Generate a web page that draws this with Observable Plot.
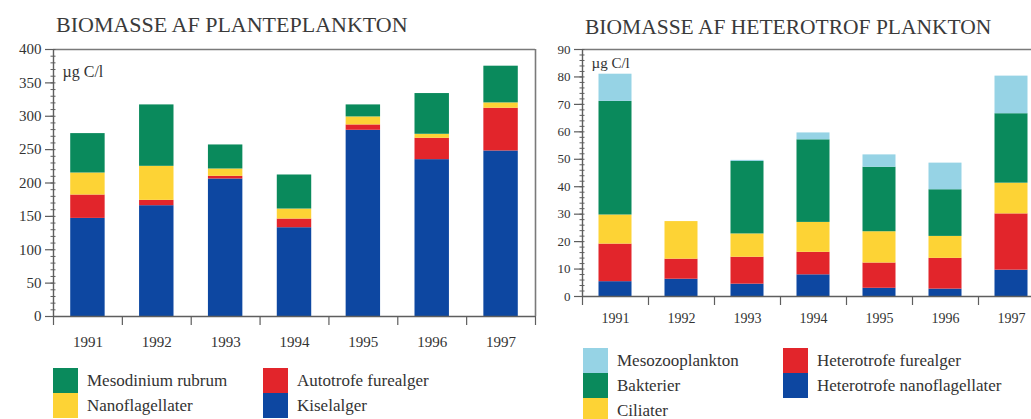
<!DOCTYPE html>
<html><head><meta charset="utf-8">
<script src="https://cdn.jsdelivr.net/npm/d3@7"></script>
<script src="https://cdn.jsdelivr.net/npm/@observablehq/plot@0.6"></script>
<style>
html,body{margin:0;padding:0;background:#fff;}
body{width:1031px;height:419px;overflow:hidden;position:relative;font-family:"Liberation Serif","Times New Roman",serif;color:#333;}
.title{position:absolute;white-space:nowrap;line-height:1;color:#3a3a3a;}
.lg{position:absolute;white-space:nowrap;line-height:1;font-size:17px;color:#333;}
.sw{position:absolute;}
#left,#right{position:absolute;top:0;}
#left svg,#right svg{max-width:none;overflow:visible;display:block;}
</style></head><body>
<div class="title" style="left:56px;top:14px;font-size:22px;">BIOMASSE AF PLANTEPLANKTON</div>
<div class="title" style="left:585px;top:17px;font-size:21.5px;">BIOMASSE AF HETEROTROF PLANKTON</div>
<div id="left" style="left:0px;"></div>
<div id="right" style="left:540px;"></div>
<div id="legendL"></div>
<div id="legendR"></div>
<script>
// ---- data ----
const years = [1991, 1992, 1993, 1994, 1995, 1996, 1997];

// Planteplankton (µg C/l), stacked bottom -> top
const plantSeries = ["Kiselalger", "Autotrofe furealger", "Nanoflagellater", "Mesodinium rubrum"];
const kiselalger         = [147, 166, 206, 133, 279, 235, 248];
const autotrofeFurealger = [35, 8, 4, 13, 8, 32, 64];
const nanoflagellater    = [33, 51, 11, 15, 12, 6, 8];
const mesodiniumRubrum   = [59, 92, 36, 51, 18, 61, 55];
const plantColors = ["#0d47a1", "#e2252b", "#fdd335", "#0a8a5c"];
const plantTicks = [0, 50, 100, 150, 200, 250, 300, 350, 400];

// Heterotrof plankton (µg C/l), stacked bottom -> top
const heteroSeries = ["Heterotrofe nanoflagellater", "Heterotrofe furealger", "Ciliater", "Bakterier", "Mesozooplankton"];
const heterotrofeNanoflagellater = [5.4, 6.3, 4.5, 7.9, 3.0, 2.7, 9.6];
const heterotrofeFurealger       = [13.7, 7.3, 9.8, 8.2, 9.2, 11.2, 20.5];
const ciliater                   = [10.6, 13.7, 8.5, 10.9, 11.4, 8.0, 11.2];
const bakterier                  = [41.4, 0, 26.4, 30.1, 23.5, 17.0, 25.3];
const mesozooplankton            = [9.9, 0, 0.4, 2.5, 4.5, 9.7, 13.7];
const heteroColors = ["#0d47a1", "#e2252b", "#fdd335", "#0a8a5c", "#96d3e5"];
const heteroTicks = [0, 10, 20, 30, 40, 50, 60, 70, 80, 90];

const unitLabel = "µg C/l";

// ---- build tables ----
function rowsOf(names, arrays) {
  const out = [];
  names.forEach((s, k) => arrays[k].forEach((v, i) => out.push({year: years[i], series: s, value: v})));
  return out;
}
const plantRows = rowsOf(plantSeries, [kiselalger, autotrofeFurealger, nanoflagellater, mesodiniumRubrum]);
const heteroRows = rowsOf(heteroSeries, [heterotrofeNanoflagellater, heterotrofeFurealger, ciliater, bakterier, mesozooplankton]);

const AX = "#5e5e5e", FR = "#7a7a7a";

function chart(o) {
  const xa = years[0] - 0.5, xb = years[years.length - 1] + 0.5;
  const bounds = years.map(y => y - 0.5).concat([xb]);
  const minors = d3.range(o.domainY[0], o.domainY[1] + 1e-9, o.minorStep);
  return Plot.plot({
    width: o.width, height: o.height,
    marginLeft: o.marginLeft, marginRight: o.marginRight, marginTop: o.marginTop, marginBottom: o.marginBottom,
    style: {fontFamily: "Liberation Serif, serif", color: "#333", background: "transparent", overflow: "visible"},
    x: {type: "linear", domain: [xa, xb], axis: null, label: null},
    y: {domain: o.domainY, axis: null, label: null},
    color: {domain: o.series, range: o.colors},
    marks: [
      Plot.rectY(o.rows, {x1: d => d.year - 0.25, x2: d => d.year + 0.25, y: "value", fill: "series"}),
      Plot.ruleY([o.domainY[1]], {y: d => d, stroke: FR, strokeWidth: 1.6}),
      Plot.ruleX([xb], {x: d => d, stroke: FR, strokeWidth: 1.6}),
      Plot.ruleX([xa], {x: d => d, stroke: AX, strokeWidth: 1.4}),
      Plot.ruleY([0], {y: d => d, stroke: AX, strokeWidth: 1.4}),
      Plot.ruleY(minors, {y: d => d, x1: xa, x2: xa, insetLeft: -2.5, insetRight: -2.5, stroke: AX}),
      Plot.axisY({ticks: o.yTicks, tickSize: 8, tickPadding: 4, tickFormat: d => String(d), label: null, fontSize: o.yFont, stroke: AX, strokeWidth: 1.2}),
      Plot.axisX({ticks: bounds, tickSize: 9, tickFormat: () => "", label: null, stroke: AX, strokeWidth: 1.2}),
      Plot.axisX({ticks: years, tickSize: 0, tickPadding: o.xPad, tickFormat: d => String(d), label: null, fontSize: o.xFont}),
      Plot.text([unitLabel], {frameAnchor: "top-left", dx: o.unitDx, dy: o.unitDy, textAnchor: "start", lineAnchor: "middle", fontSize: o.unitSize, fill: "#333"})
    ]
  });
}

document.getElementById("left").append(chart({
  rows: plantRows, series: plantSeries, colors: plantColors,
  domainY: [0, 400], yTicks: plantTicks, minorStep: 10,
  width: 545, height: 350, marginLeft: 53, marginRight: 10, marginTop: 49, marginBottom: 34,
  yFont: 15, xFont: 15, xPad: 20, unitDx: 9, unitDy: 22, unitSize: 16
}));

document.getElementById("right").append(chart({
  rows: heteroRows, series: heteroSeries, colors: heteroColors,
  domainY: [0, 90], yTicks: heteroTicks, minorStep: 2,
  width: 510, height: 330, marginLeft: 42, marginRight: 6, marginTop: 49, marginBottom: 34,
  yFont: 13, xFont: 14, xPad: 17, unitDx: 9, unitDy: 14, unitSize: 15
}));

// ---- legends ----
function legend(id, items) {
  const el = document.getElementById(id);
  items.forEach(it => {
    const sw = document.createElement("div");
    sw.className = "sw";
    sw.style.cssText = `left:${it.x}px;top:${it.y}px;width:25px;height:25px;background:${it.color};`;
    el.append(sw);
    const t = document.createElement("div");
    t.className = "lg";
    t.style.cssText = `left:${it.x + 34}px;top:${it.y + 4}px;`;
    t.textContent = it.label;
    el.append(t);
  });
}
legend("legendL", [
  {label: plantSeries[3], color: plantColors[3], x: 53, y: 368},
  {label: plantSeries[2], color: plantColors[2], x: 53, y: 393},
  {label: plantSeries[1], color: plantColors[1], x: 263, y: 368},
  {label: plantSeries[0], color: plantColors[0], x: 263, y: 393}
]);
legend("legendR", [
  {label: heteroSeries[4], color: heteroColors[4], x: 583, y: 348},
  {label: heteroSeries[3], color: heteroColors[3], x: 583, y: 373},
  {label: heteroSeries[2], color: heteroColors[2], x: 583, y: 398},
  {label: heteroSeries[1], color: heteroColors[1], x: 783, y: 348},
  {label: heteroSeries[0], color: heteroColors[0], x: 783, y: 373}
]);
</script>
</body></html>
